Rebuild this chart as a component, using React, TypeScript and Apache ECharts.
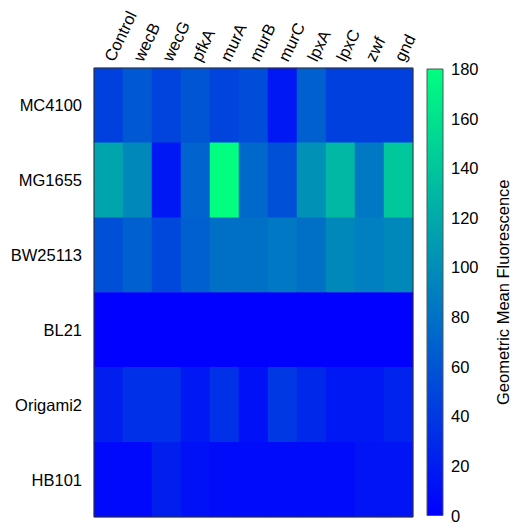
import React, { useEffect, useRef } from "react";
import * as echarts from "echarts";

const genes = ["Control", "wecB", "wecG", "pfkA", "murA", "murB", "murC", "lpxA", "lpxC", "zwf", "gnd"];
const strains = ["MC4100", "MG1655", "BW25113", "BL21", "Origami2", "HB101"];

const mc4100 = [45, 62, 48, 60, 48, 54, 17, 68, 45, 45, 45];
const mg1655 = [116, 96, 17, 70, 180, 73, 56, 102, 130, 85, 141];
const bw25113 = [56, 68, 51, 68, 79, 79, 85, 79, 96, 90, 96];
const bl21 = [1, 1, 1, 1, 1, 1, 1, 1, 1, 1, 1];
const origami2 = [22, 34, 34, 17, 34, 11, 40, 28, 17, 17, 25];
const hb101 = [6, 6, 22, 11, 8, 8, 8, 8, 8, 14, 14];

const rows = [mc4100, mg1655, bw25113, bl21, origami2, hb101];
const colorbarTicks = [0, 20, 40, 60, 80, 100, 120, 140, 160, 180];

const FONT = "Liberation Sans";
const FS = 16.5;

export default function App() {
  const ref = useRef<HTMLDivElement>(null);
  useEffect(() => {
    if (!ref.current) return;
    const chart = echarts.init(ref.current, undefined, { renderer: "svg" });
    const data: number[][] = [];
    rows.forEach((r, yi) => r.forEach((v, xi) => data.push([xi, yi, v])));
    const cbMax = colorbarTicks[colorbarTicks.length - 1];
    chart.setOption({
      animation: false,
      backgroundColor: "#ffffff",
      textStyle: { fontFamily: FONT },
      grid: [
        { left: 94, top: 68, width: 319, height: 449, show: true, borderColor: "#333", borderWidth: 1, backgroundColor: "transparent", z: 5 },
        { left: 427, top: 69, width: 16, height: 448, show: true, borderColor: "#555", borderWidth: 1, z: 5 },
      ],
      visualMap: {
        show: false,
        type: "continuous",
        min: 0,
        max: cbMax,
        seriesIndex: 0,
        inRange: { color: ["#0000ff", "#00ff80"] },
      },
      xAxis: [
        {
          type: "category",
          gridIndex: 0,
          position: "top",
          data: genes,
          axisLine: { show: false },
          axisTick: { show: true, inside: true, alignWithLabel: true, length: 4, lineStyle: { color: "#000" } },
          axisLabel: { rotate: -64, fontSize: FS, color: "#000", fontFamily: FONT, margin: 8, interval: 0 },
          splitLine: { show: false },
        },
        {
          type: "category",
          gridIndex: 0,
          position: "bottom",
          data: genes,
          axisLine: { show: false },
          axisTick: { show: true, inside: true, alignWithLabel: true, length: 4, lineStyle: { color: "#000" } },
          axisLabel: { show: false },
          splitLine: { show: false },
        },
        {
          type: "category",
          gridIndex: 1,
          data: ["cb"],
          show: false,
        },
      ],
      yAxis: [
        {
          type: "category",
          gridIndex: 0,
          inverse: true,
          position: "left",
          data: strains,
          axisLine: { show: false },
          axisTick: { show: true, inside: true, alignWithLabel: true, length: 4, lineStyle: { color: "#000" } },
          axisLabel: { fontSize: FS, color: "#000", fontFamily: FONT, margin: 12 },
          splitLine: { show: false },
        },
        {
          type: "category",
          gridIndex: 0,
          inverse: true,
          position: "right",
          data: strains,
          axisLine: { show: false },
          axisTick: { show: true, inside: true, alignWithLabel: true, length: 4, lineStyle: { color: "#000" } },
          axisLabel: { show: false },
          splitLine: { show: false },
        },
        {
          type: "value",
          gridIndex: 1,
          position: "right",
          min: 0,
          max: cbMax,
          interval: 20,
          axisLine: { show: false },
          axisTick: { show: true, inside: true, length: 3, lineStyle: { color: "#000" } },
          axisLabel: { fontSize: FS, color: "#000", fontFamily: FONT, margin: 8 },
          splitLine: { show: false },
          name: "Geometric Mean Fluorescence",
          nameLocation: "middle",
          nameRotate: 90,
          nameGap: 51,
          nameTextStyle: { fontSize: FS, color: "#000", fontFamily: FONT },
        },
      ],
      series: [
        {
          type: "heatmap",
          xAxisIndex: 0,
          yAxisIndex: 0,
          data,
          itemStyle: { borderWidth: 0 },
          emphasis: { disabled: true },
        },
        {
          type: "bar",
          xAxisIndex: 2,
          yAxisIndex: 2,
          data: [cbMax],
          barWidth: "100%",
          silent: true,
          itemStyle: {
            color: new echarts.graphic.LinearGradient(0, 0, 0, 1, [
              { offset: 0, color: "#00ff80" },
              { offset: 1, color: "#0000ff" },
            ]),
          },
        },
      ],
    });
    return () => chart.dispose();
  }, []);
  return <div ref={ref} style={{ position: "fixed", left: 0, top: 0, width: 514, height: 524 }} />;
}
